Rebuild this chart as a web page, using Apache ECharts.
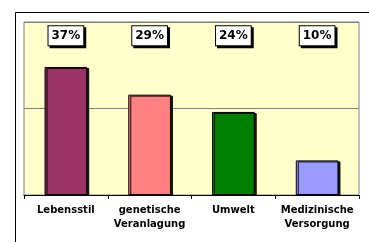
<!DOCTYPE html>
<html>
<head>
<meta charset="utf-8">
<script src="https://cdn.jsdelivr.net/npm/echarts@6/dist/echarts.min.js"></script>
<style>
  html, body { margin: 0; padding: 0; background: #fff; }
  #chart { width: 369px; height: 242px; }
</style>
</head>
<body>
<div id="chart"></div>
<script>
// Daten
const categories = ['Lebensstil', 'genetische\nVeranlagung', 'Umwelt', 'Medizinische\nVersorgung']
const values = [37, 29, 24, 10]
const barColors = ['#993366', '#FF8080', '#008000', '#9999FF']
const labelLevel = [46, 46, 46, 46]   // Höhe der Wert-Kästchen

const chart = echarts.init(document.getElementById('chart'))
const font = '"DejaVu Sans", Verdana, sans-serif'

chart.setOption({
  animation: false,
  grid: {
    left: 24, top: 22, right: 10, bottom: 47,
    show: true, backgroundColor: '#FFFFCC', borderColor: '#808080', borderWidth: 1
  },
  // äußerer Rahmen
  graphic: [{
    type: 'rect', shape: { x: 15.5, y: 12.5, width: 400, height: 300 },
    style: { fill: 'none', stroke: '#000', lineWidth: 1 }, silent: true, z: -1
  }],
  xAxis: {
    type: 'category',
    data: categories,
    axisLine: { lineStyle: { color: '#000', width: 1 } },
    axisTick: { show: true, length: 4, lineStyle: { color: '#000' } },
    axisLabel: {
      color: '#000', fontFamily: font, fontSize: 10, fontWeight: 'bold',
      lineHeight: 14, margin: 8, interval: 0
    }
  },
  yAxis: {
    type: 'value', min: 0, max: 50, interval: 25,
    axisLine: { show: false }, axisTick: { show: false }, axisLabel: { show: false },
    splitLine: { lineStyle: { color: '#808080', width: 1 } }
  },
  series: [
    {
      type: 'bar',
      barWidth: '51%',
      data: values.map((v, i) => ({ value: v, itemStyle: { color: barColors[i] } })),
      itemStyle: {
        borderColor: '#000', borderWidth: 1,
        shadowColor: 'rgba(0,0,0,0.9)', shadowBlur: 0, shadowOffsetX: 2, shadowOffsetY: 1
      }
    },
    {
      type: 'scatter',
      symbolSize: 0,
      itemStyle: { opacity: 1 },
      data: labelLevel.map((y, i) => [i, y]),
      label: {
        show: true, position: 'inside', opacity: 1,
        formatter: p => values[p.dataIndex] + '%',
        color: '#000', fontFamily: font, fontSize: 12, fontWeight: 'bold',
        backgroundColor: '#fff', borderColor: '#000', borderWidth: 1,
        padding: [4, 3, 3, 3],
        shadowColor: '#000', shadowBlur: 0, shadowOffsetX: 2, shadowOffsetY: 2
      },
      z: 5
    }
  ]
})
</script>
</body>
</html>
